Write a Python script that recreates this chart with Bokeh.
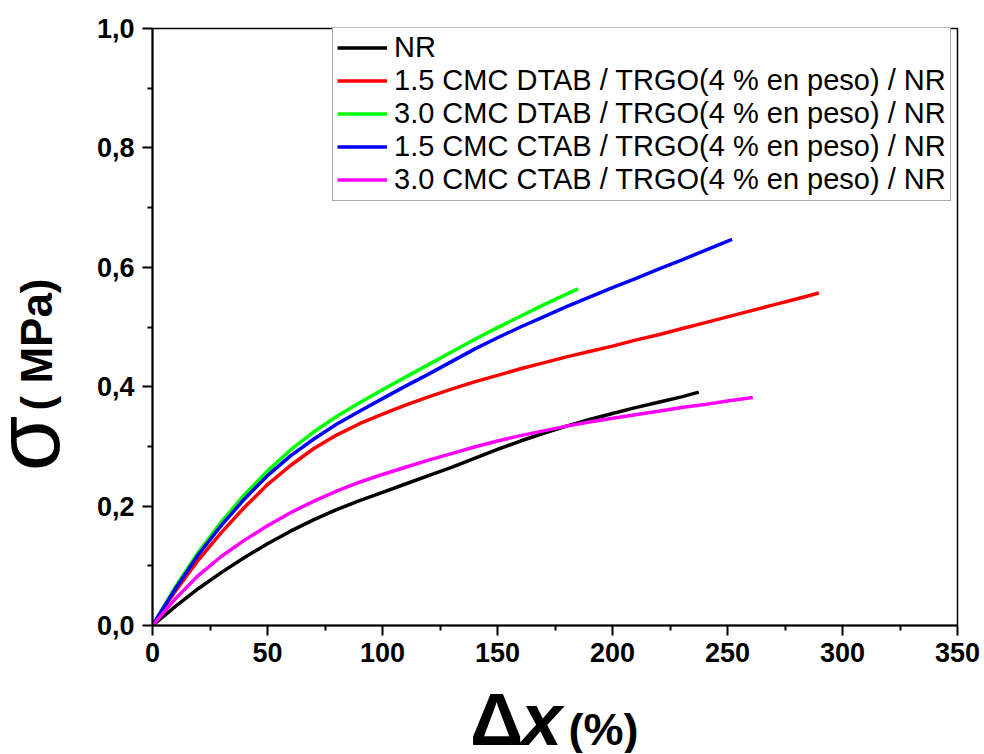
import math
from bokeh.plotting import figure
from bokeh.layouts import row, column
from bokeh.models import (Range1d, FixedTicker, CustomJSTickFormatter, Label,
                          Legend, LegendItem)
from bokeh.embed import file_html
from bokeh.resources import INLINE

# ---- data (strain %, stress MPa) ----
nr_x = [0, 10, 20, 30, 40, 50, 60, 70, 80, 90, 100, 110, 120, 130, 140, 150, 160, 170, 180, 190, 200, 210, 220, 230, 237.5]
nr_y = [0, 0.032, 0.062, 0.089, 0.114, 0.137, 0.158, 0.177, 0.194, 0.209, 0.223, 0.237, 0.251, 0.265, 0.28, 0.295,
        0.309, 0.322, 0.334, 0.345, 0.355, 0.365, 0.374, 0.383, 0.391]

dtab15_x = [0, 10, 20, 30, 40, 50, 60, 70, 80, 90, 100, 110, 120, 130, 140, 150, 160, 170, 180, 190, 200, 210, 220,
            230, 240, 250, 260, 270, 280, 289.7]
dtab15_y = [0, 0.058, 0.11, 0.156, 0.198, 0.236, 0.268, 0.296, 0.319, 0.338, 0.354, 0.369, 0.383, 0.396, 0.408, 0.419,
            0.43, 0.44, 0.45, 0.459, 0.468, 0.478, 0.487, 0.497, 0.507, 0.517, 0.527, 0.537, 0.547, 0.557]

dtab30_x = [0, 10, 20, 30, 40, 50, 60, 70, 80, 90, 100, 110, 120, 130, 140, 150, 160, 170, 180, 185]
dtab30_y = [0, 0.065, 0.123, 0.174, 0.219, 0.259, 0.294, 0.324, 0.35, 0.373, 0.395, 0.416, 0.437, 0.458, 0.479,
            0.499, 0.518, 0.537, 0.555, 0.564]

ctab15_x = [0, 10, 20, 30, 40, 50, 60, 70, 80, 90, 100, 110, 120, 130, 140, 150, 160, 170, 180, 190, 200, 210, 220,
            230, 240, 252]
ctab15_y = [0, 0.062, 0.119, 0.168, 0.212, 0.251, 0.284, 0.312, 0.337, 0.359, 0.38, 0.401, 0.421, 0.442, 0.463, 0.482,
            0.5, 0.517, 0.534, 0.55, 0.566, 0.581, 0.597, 0.612, 0.628, 0.6466]

ctab30_x = [0, 10, 20, 30, 40, 50, 60, 70, 80, 90, 100, 110, 120, 130, 140, 150, 160, 170, 180, 190, 200, 210, 220,
            230, 240, 250, 261]
ctab30_y = [0, 0.045, 0.084, 0.116, 0.143, 0.167, 0.189, 0.208, 0.225, 0.24, 0.253, 0.265, 0.277, 0.288, 0.299, 0.309,
            0.318, 0.326, 0.334, 0.341, 0.347, 0.353, 0.359, 0.365, 0.37, 0.376, 0.382]

series_labels = ["NR",
                 "1.5 CMC DTAB / TRGO(4 % en peso) / NR",
                 "3.0 CMC DTAB / TRGO(4 % en peso) / NR",
                 "1.5 CMC CTAB / TRGO(4 % en peso) / NR",
                 "3.0 CMC CTAB / TRGO(4 % en peso) / NR"]
series_colors = ["#000000", "#FF0000", "#00FF00", "#0000FF", "#FF00FF"]

x_ticks = [0, 50, 100, 150, 200, 250, 300, 350]
y_ticks = [0.0, 0.2, 0.4, 0.6, 0.8, 1.0]

FONT = "Liberation Sans"

# ---------------- main chart ----------------
p = figure(frame_width=805, frame_height=597,
           min_border_left=82, min_border_right=26,
           min_border_top=28, min_border_bottom=50,
           x_range=Range1d(0, 350), y_range=Range1d(0, 1.0),
           output_backend="svg", toolbar_location=None,
           background_fill_color="white", border_fill_color="white")

p.grid.visible = False
p.outline_line_color = "black"
p.outline_line_width = 1.5

for ax in (p.xaxis[0], p.yaxis[0]):
    ax.axis_line_width = 2
    ax.major_tick_line_width = 2
    ax.minor_tick_line_width = 2
    ax.major_tick_out = 10
    ax.major_tick_in = 0
    ax.minor_tick_out = 5
    ax.minor_tick_in = 0
    ax.major_label_text_font = FONT
    ax.major_label_text_font_style = "bold"
    ax.major_label_text_font_size = "27px"
    ax.major_label_text_color = "black"

p.xaxis[0].ticker = FixedTicker(ticks=x_ticks, minor_ticks=list(range(25, 350, 50)))
p.yaxis[0].ticker = FixedTicker(ticks=y_ticks, minor_ticks=[0.1, 0.3, 0.5, 0.7, 0.9])
p.yaxis[0].formatter = CustomJSTickFormatter(code="return tick.toFixed(1).replace('.', ',');")
p.xaxis[0].major_label_standoff = 7
p.yaxis[0].major_label_standoff = 8

renderers = []
for xs, ys, c in [(nr_x, nr_y, series_colors[0]),
                  (dtab15_x, dtab15_y, series_colors[1]),
                  (dtab30_x, dtab30_y, series_colors[2]),
                  (ctab15_x, ctab15_y, series_colors[3]),
                  (ctab30_x, ctab30_y, series_colors[4])]:
    r = p.line(xs, ys, line_color=c, line_width=3.5, line_join="round")
    renderers.append(r)

legend = Legend(items=[LegendItem(label=l, renderers=[r]) for l, r in zip(series_labels, renderers)],
                location=(180, 424))
legend.label_text_font = FONT
legend.label_text_font_size = "29px"
legend.label_text_line_height = 1.0
legend.label_text_color = "black"
legend.glyph_width = 50
legend.glyph_height = 33
legend.label_height = 33
legend.label_standoff = 7
legend.spacing = 0
legend.padding = 4
legend.margin = 0
legend.border_line_color = "#555555"
legend.border_line_width = 1
legend.background_fill_alpha = 1
p.add_layout(legend, "center")

# ---------------- axis titles (mixed font sizes) ----------------
def label_fig(w, h):
    f = figure(width=w, height=h, min_border=0, x_range=(0, 1), y_range=(0, 1),
               x_axis_location=None, y_axis_location=None,
               output_backend="svg", toolbar_location=None,
               background_fill_color="white", border_fill_color="white")
    f.grid.visible = False
    f.outline_line_color = None
    return f

def add_label(f, **kw):
    f.add_layout(Label(x_units="screen", y_units="screen",
                       text_baseline="middle", text_align="center", text_color="black", **kw))

ylab = label_fig(70, 675)
add_label(ylab, x=27, y=232, text="σ", text_font=FONT, text_font_size="90px", angle=math.pi / 2)
add_label(ylab, x=36, y=331, text="( MPa)", text_font=FONT, text_font_style="bold",
          text_font_size="44px", angle=math.pi / 2)

# the label strip's frame is aligned with the chart's frame (starts at the y axis)
xlab = label_fig(913, 78)
add_label(xlab, x=344, y=34, text="Δ", text_font=FONT, text_font_style="bold", text_font_size="74px")
add_label(xlab, x=389, y=34, text="x", text_font=FONT, text_font_style="bold italic", text_font_size="74px")
add_label(xlab, x=451, y=24, text="(%)", text_font=FONT, text_font_style="bold", text_font_size="45px")

layout = row(ylab, column(p, xlab, spacing=0), spacing=0)

open("out.html", "w").write(file_html(layout, INLINE))
